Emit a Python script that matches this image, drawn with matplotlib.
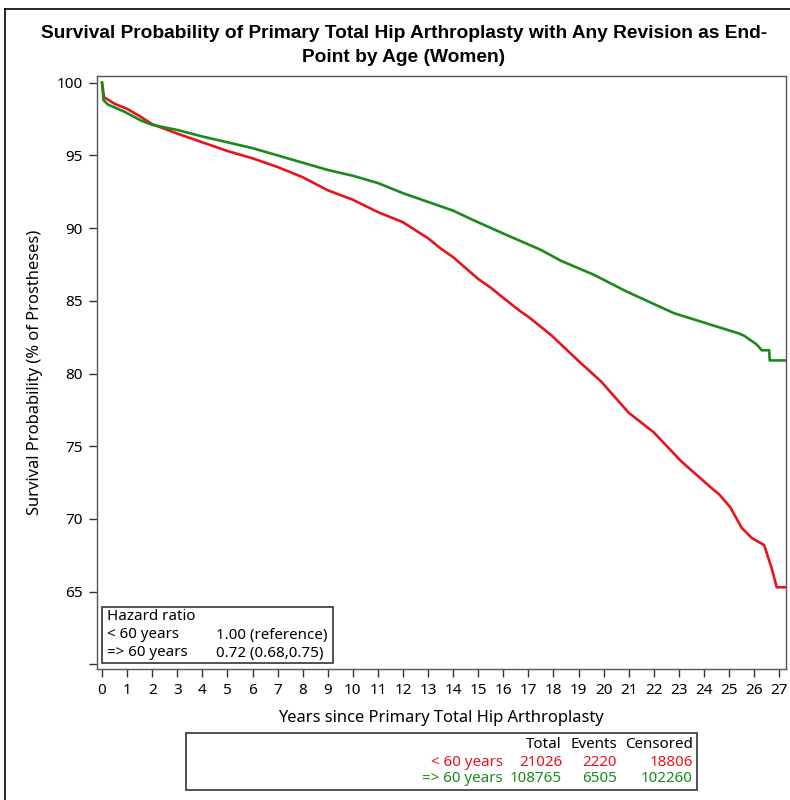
"""Kaplan-Meier style survival curves, primary THA in women, by age group."""

import matplotlib
matplotlib.use("Agg")
import matplotlib.pyplot as plt
from matplotlib.patches import Rectangle
from matplotlib.lines import Line2D

# (years, survival %)
years_lt60 = [0, 0.08, 0.5, 1, 1.5, 2, 3, 4, 5, 6, 7, 8, 9, 10, 11, 12, 13, 13.5, 14, 15,
              15.5, 16, 16.7, 17, 17.9, 19.1, 19.9, 21, 22, 23.1, 24.25, 24.6, 25.05,
              25.5, 25.9, 26.4, 26.55, 26.7, 26.9, 27.25]
surv_lt60 = [100, 99.0, 98.55, 98.2, 97.7, 97.15, 96.5, 95.9, 95.3, 94.8, 94.2, 93.5, 92.6,
             91.95, 91.1, 90.4, 89.3, 88.6, 88.0, 86.5, 85.9, 85.2, 84.25, 83.9, 82.65, 80.7,
             79.45, 77.3, 75.95, 73.95, 72.2, 71.7, 70.8, 69.4, 68.7, 68.2, 67.4, 66.6,
             65.3, 65.3]

years_ge60 = [0, 0.06, 0.23, 0.9, 1.55, 2, 3, 4, 5, 6, 7, 8, 9, 10, 11, 12, 13, 14, 14.8,
              16.1, 17.5, 18.3, 19.6, 20.9, 22.8, 24.1, 25.4, 25.6, 26.1, 26.3, 26.6, 26.62,
              27.25]
surv_ge60 = [100, 98.8, 98.5, 98.0, 97.4, 97.1, 96.75, 96.3, 95.9, 95.5, 95.0, 94.5, 94.0,
             93.6, 93.1, 92.4, 91.8, 91.2, 90.55, 89.55, 88.5, 87.75, 86.8, 85.65, 84.15, 83.45,
             82.75, 82.6, 82.0, 81.6, 81.6, 80.9, 80.9]

group_labels = ["< 60 years", "=> 60 years"]
hazard_text = ["1.00 (reference)", "0.72 (0.68,0.75)"]
totals = [21026, 108765]
events = [2220, 6505]
censored = [18806, 102260]

RED = "#e8141c"
GREEN = "#1a8a1a"
W, H = 790, 800


def fx(px):
    return px / W


def fy(py):
    return 1 - py / H


plt.rcParams["font.family"] = ["Noto Sans", "DejaVu Sans"]

fig = plt.figure(figsize=(W / 100, H / 100), dpi=100)
ax = fig.add_axes([fx(97), fy(669), fx(785.5) - fx(97), fy(76) - fy(669)])

ax.plot(years_lt60, surv_lt60, color=RED, linewidth=1.9, zorder=3)
ax.plot(years_ge60, surv_ge60, color=GREEN, linewidth=1.9, zorder=4)

ax.set_xlim(-0.2, 27.25)
ax.set_ylim(59.68, 100.46)
ax.set_xticks(range(0, 28))
ax.set_yticks(range(60, 101, 5))
ax.set_yticklabels([""] + [str(v) for v in range(65, 101, 5)])
ax.tick_params(axis="both", direction="out", length=6, width=1, color="#333333",
               labelsize=11, pad=4)
for spine in ax.spines.values():
    spine.set_color("#555555")
    spine.set_linewidth(1.0)

ax.set_xlabel("Years since Primary Total Hip Arthroplasty", fontsize=11.9, labelpad=9)
ax.set_ylabel("Survival Probability (% of Prostheses)", fontsize=11.9, labelpad=10)

fig.text(fx(404), fy(33), "Survival Probability of Primary Total Hip Arthroplasty with Any Revision as End-",
         ha="center", va="center", fontsize=13.8, fontweight="bold", family="Liberation Sans")
fig.text(fx(404), fy(57), "Point by Age (Women)",
         ha="center", va="center", fontsize=13.8, fontweight="bold", family="Liberation Sans")

# outer frame (left and top edges only are visible)
fig.add_artist(Line2D([fx(5), fx(5)], [fy(9), 0], transform=fig.transFigure, color="black", lw=1.2))
fig.add_artist(Line2D([fx(5), 1], [fy(9), fy(9)], transform=fig.transFigure, color="black", lw=1.2))

# hazard ratio inset
fig.add_artist(Rectangle((fx(102), fy(663)), fx(333) - fx(102), fy(607) - fy(663),
                         transform=fig.transFigure, fill=False, edgecolor="#333333", lw=1.2))
fig.text(fx(107), fy(617), "Hazard ratio", fontsize=10.9, va="center", ha="left")
for i, (lab, hr) in enumerate(zip(group_labels, hazard_text)):
    y = fy(635 + 18 * i)
    fig.text(fx(107), y, lab, fontsize=10.9, va="center", ha="left")
    fig.text(fx(216), y, hr, fontsize=10.9, va="center", ha="left")

# counts table below the plot
fig.add_artist(Rectangle((fx(186), fy(790)), fx(697) - fx(186), fy(733) - fy(790),
                         transform=fig.transFigure, fill=False, edgecolor="#333333", lw=1.2))
col_right = [fx(503), fx(562), fx(617), fx(693)]
for x, head in zip(col_right[1:], ["Total", "Events", "Censored"]):
    fig.text(x, fy(744), head, fontsize=10.9, ha="right", va="center")
for i, color in enumerate([RED, GREEN]):
    y = fy(762 + 17 * i)
    row = [group_labels[i], str(totals[i]), str(events[i]), str(censored[i])]
    for x, val in zip(col_right, row):
        fig.text(x, y, val, fontsize=10.9, ha="right", va="center", color=color)

fig.savefig("out.png", dpi=100)
